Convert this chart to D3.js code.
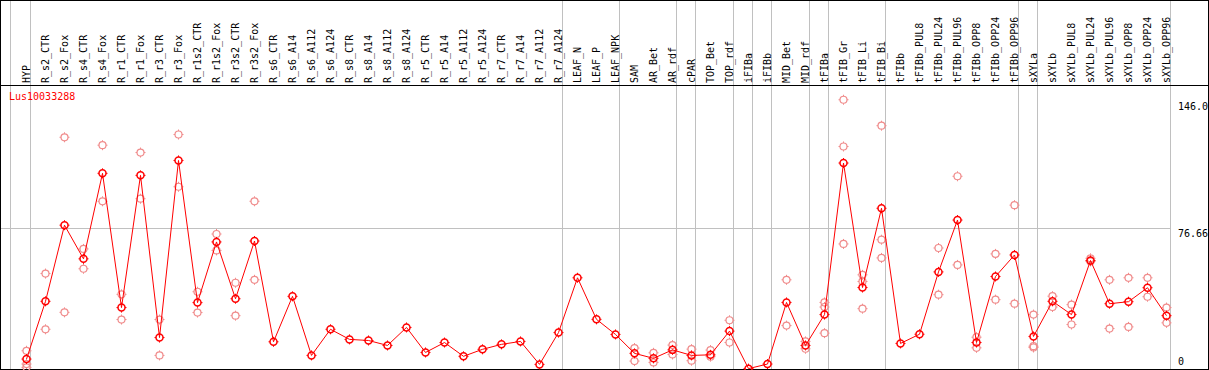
<!DOCTYPE html>
<html>
<head>
<meta charset="utf-8">
<script src="https://cdn.jsdelivr.net/npm/d3@7"></script>
<style>
  body { margin: 0; background: #fff; }
  text { font-family: "DejaVu Sans Mono", monospace; font-size: 10px; }
</style>
</head>
<body>
<div id="chart"></div>
<script>
var geneName = "Lus10033288";

var categories = ["HYP","R_s2_CTR","R_s2_Fox","R_s4_CTR","R_s4_Fox","R_r1_CTR","R_r1_Fox","R_r3_CTR","R_r3_Fox",
  "R_r1s2_CTR","R_r1s2_Fox","R_r3s2_CTR","R_r3s2_Fox","R_s6_CTR","R_s6_A14","R_s6_A112","R_s6_A124",
  "R_s8_CTR","R_s8_A14","R_s8_A112","R_s8_A124","R_r5_CTR","R_r5_A14","R_r5_A112","R_r5_A124",
  "R_r7_CTR","R_r7_A14","R_r7_A112","R_r7_A124","LEAF_N","LEAF_P","LEAF_NPK","SAM","AR_Bet","AR_rdf",
  "cPAR","TOP_Bet","TOP_rdf","iFIBa","iFIBb","MID_Bet","MID_rdf","tFIBa","tFIB_Gr","tFIB_Li","tFIB_Bi",
  "tFIBb","tFIBb_PUL8","tFIBb_PUL24","tFIBb_PUL96","tFIBb_OPP8","tFIBb_OPP24","tFIBb_OPP96",
  "sXYLa","sXYLb","sXYLb_PUL8","sXYLb_PUL24","sXYLb_PUL96","sXYLb_OPP8","sXYLb_OPP24","sXYLb_OPP96"];

// mean expression per sample
var means = [5.4,36.8,78.2,59.9,106.4,33.4,105.3,17.1,113.4,
  36.1,69.1,38.2,69.6,14.8,39.5,7.4,21.6,
  16.1,15.5,12.8,22.6,9.0,14.4,6.9,10.7,
  13.4,15.0,2.5,19.8,49.6,27.0,18.8,8.5,5.8,10.4,
  7.4,7.7,20.6,0.2,2.7,36.2,12.8,29.6,112,44.3,87.4,
  13.9,18.9,52.8,81,14.4,50.3,62.0,
  17.7,36.8,29.6,59.0,35.5,36.6,44.2,29.0];

// replicate values (only where they show apart from the mean)
var replicates = [[9.9,2.7,0.9],[51.9,21.6],[126,30.8],[65.3,54.5],[121.7,91.2],[40.6,26.9],[117.7,92.6],[26.9,7.4],[127.5,99.1],
  [42.0,30.7],[73.4,64.5],[46.9,29.0],[91.2,48.5],[],[],[],[],
  [],[],[],[],[],[],[],[],
  [],[],[],[],[],[],[],[11.4,4.3],[8.8,3.6],[13.0,7.9],
  [10.8,4.5],[10.3,6.7],[26.5,14.4],[],[],[48.5,23.6],[15.0,11.0],[36.2,33.7,19.5],[146.4,121,68.0],[51.2,47.6,32.8],[132.3,70.3,60.4],
  [],[],[65.8,40.4],[104.8,56.6],[17.3,11.5],[62.6,37.7],[89.1,35.5],
  [29.6,12.4,11.7],[39.6,33.7],[35.0,24.2],[60.2,58.5],[48.5,22.0],[49.6,22.9],[49.6,39.3],[33.4,25.1]];

var yTicks = [0, 76.66, 146.0];
var yTickLabels = ["0", "76.66", "146.0"];

// separators drawn after these samples
var groupEnds = ["HYP","R_r7_A124","LEAF_NPK","AR_rdf","cPAR","TOP_rdf","iFIBa","iFIBb","MID_rdf","tFIBa","tFIB_Bi","tFIBb_OPP96","sXYLa","sXYLb_OPP96"];

var W = 1209, H = 370, headerY = 85, plotRight = 1170;

var x = d3.scaleBand().domain(categories).range([11, plotRight]);
var y = d3.scaleLinear().domain([0, 146]).range([369, 100.5]);
function cx(c) { return x(c) + x.bandwidth() - 3.5; }

var svg = d3.select("#chart").append("svg")
    .attr("width", W).attr("height", H);

svg.append("rect").attr("width", W).attr("height", H).attr("fill", "#fff");

var grid = "#c0c0c0";

// horizontal grid line at the middle tick
svg.append("line")
    .attr("x1", 0).attr("x2", plotRight)
    .attr("y1", Math.round(y(76.66)) + 0.5).attr("y2", Math.round(y(76.66)) + 0.5)
    .attr("stroke", grid);

// vertical group separators
svg.append("line")
    .attr("x1", x(categories[0]) - 0.5).attr("x2", x(categories[0]) - 0.5)
    .attr("y1", 0).attr("y2", 369).attr("stroke", grid);
svg.selectAll("line.sep")
  .data(groupEnds)
  .enter().append("line")
    .attr("class", "sep")
    .attr("x1", function(d) { return Math.round(x(d) + x.bandwidth()) + 0.5; })
    .attr("x2", function(d) { return Math.round(x(d) + x.bandwidth()) + 0.5; })
    .attr("y1", 0).attr("y2", 369)
    .attr("stroke", grid);

// frame
svg.append("line").attr("x1", 0).attr("x2", W).attr("y1", 0.5).attr("y2", 0.5).attr("stroke", "#000");
svg.append("line").attr("x1", 0).attr("x2", W).attr("y1", headerY + 0.5).attr("y2", headerY + 0.5).attr("stroke", "#000");
svg.append("line").attr("x1", 0).attr("x2", W).attr("y1", 369.5).attr("y2", 369.5).attr("stroke", "#000");
svg.append("line").attr("x1", 0.5).attr("x2", 0.5).attr("y1", 0).attr("y2", H).attr("stroke", "#000");

// sample labels
svg.selectAll("text.cat")
  .data(categories)
  .enter().append("text")
    .attr("class", "cat")
    .attr("transform", function(d) { return "translate(" + (cx(d) + 3) + "," + 83 + ") rotate(-90)"; })
    .attr("fill", "#000")
    .text(function(d) { return d; });

// y tick labels on the right
svg.selectAll("text.ytick")
  .data(yTicks)
  .enter().append("text")
    .attr("class", "ytick")
    .attr("x", 1178)
    .attr("y", function(d, i) { return i == 0 ? y(d) - 4 : y(d) + 9; })
    .attr("fill", "#000")
    .text(function(d, i) { return yTickLabels[i]; });

svg.append("line").attr("x1", 1208.5).attr("x2", 1208.5).attr("y1", 0).attr("y2", H).attr("stroke", "#000");

// gene name
svg.append("text")
    .attr("x", 9).attr("y", 100)
    .attr("fill", "#ff0000")
    .text(geneName);

function marker(g, color, sw) {
  var r = 3.5;
  g.append("circle").attr("r", r).attr("fill", "none").attr("stroke", color).attr("stroke-width", sw);
  g.append("path")
    .attr("d", "M0," + (-r - 1.5) + "V" + (-r) + "M0," + r + "V" + (r + 1.5) +
               "M" + (-r - 1.5) + ",0H" + (-r) + "M" + r + ",0H" + (r + 1.5))
    .attr("stroke", color).attr("stroke-width", 1);
}

// replicates
var repPts = [];
categories.forEach(function(c, i) {
  replicates[i].forEach(function(v) { repPts.push({cat: c, value: v}); });
});
svg.append("g").selectAll("g")
  .data(repPts)
  .enter().append("g")
    .attr("transform", function(d) { return "translate(" + cx(d.cat) + "," + y(d.value) + ")"; })
    .each(function() { marker(d3.select(this), "#f08c8c", 1.2); });

// mean line
var meanPts = categories.map(function(c, i) { return {cat: c, value: means[i]}; });
var line = d3.line()
    .x(function(d) { return cx(d.cat); })
    .y(function(d) { return y(d.value); });
svg.append("path")
    .datum(meanPts)
    .attr("d", line)
    .attr("fill", "none")
    .attr("stroke", "#ff0000")
    .attr("stroke-width", 1);

svg.append("g").selectAll("g")
  .data(meanPts)
  .enter().append("g")
    .attr("transform", function(d) { return "translate(" + cx(d.cat) + "," + y(d.value) + ")"; })
    .each(function() { marker(d3.select(this), "#ff0000", 1.5); });
</script>
</body>
</html>
